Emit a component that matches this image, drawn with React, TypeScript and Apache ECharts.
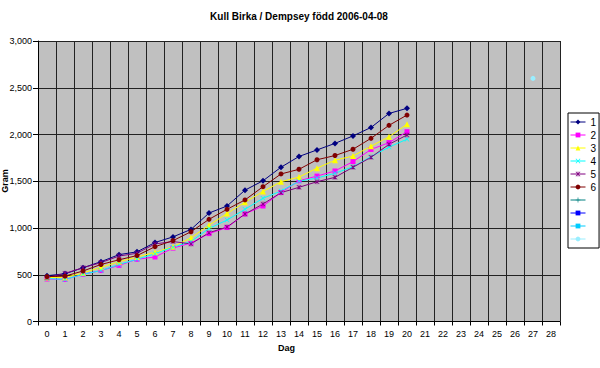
import React, { useEffect, useRef } from "react";
import * as echarts from "echarts";

const TITLE = "Kull Birka / Dempsey född 2006-04-08";
const X_TITLE = "Dag";
const Y_TITLE = "Gram";

const days = Array.from({ length: 29 }, (_, i) => String(i));

const seriesNames = ["1", "2", "3", "4", "5", "6", "7", "8", "9", "10"];

const s1 = [490, 510, 575, 640, 715, 745, 845, 905, 985, 1160, 1235, 1405, 1505, 1650, 1765, 1835, 1905, 1985, 2075, 2225, 2280];
const s2 = [455, 450, 505, 545, 600, 665, 690, 785, 840, 940, 1005, 1150, 1235, 1380, 1505, 1555, 1610, 1710, 1840, 1913, 2030];
const s3 = [470, 470, 520, 580, 640, 690, 740, 800, 895, 1030, 1155, 1275, 1390, 1495, 1545, 1640, 1725, 1770, 1875, 1975, 2110];
const s4 = [460, 450, 505, 545, 610, 665, 725, 795, 855, 995, 1085, 1200, 1318, 1395, 1500, 1535, 1585, 1655, 1763, 1865, 1950];
const s5 = [470, 515, 575, 630, 700, 730, 830, 855, 830, 950, 1010, 1150, 1257, 1378, 1435, 1495, 1542, 1650, 1756, 1895, 1995];
const s6 = [480, 485, 540, 610, 660, 705, 800, 865, 960, 1093, 1200, 1300, 1442, 1578, 1628, 1730, 1775, 1842, 1959, 2098, 2208];
const s7: (number | null)[] = [];
const s8: (number | null)[] = [];
const s9: (number | null)[] = [];
const s10: (number | null)[] = [null, null, null, null, null, null, null, null, null, null, null, null, null, null, null, null, null, null, null, null, null, null, null, null, null, null, null, 2600];

const yTicks = { min: 0, max: 3000, interval: 500 };

const FONT = "'Liberation Sans', Arial, sans-serif";

const X_PATH = "path://M0,1L1,0L5,4L9,0L10,1L6,5L10,9L9,10L5,6L1,10L0,9L4,5Z";
const STAR_PATH = "path://M0,1L1,0L5,4L9,0L10,1L6,5L10,9L9,10L5,6L1,10L0,9L4,5Z M4.3,0H5.7V10H4.3Z";
const PLUS_PATH = "path://M4.3,0H5.7V4.3H10V5.7H5.7V10H4.3V5.7H0V4.3H4.3Z";
const DASH_PATH = "path://M0,4H10V6H0Z";

export default function App() {
  const ref = useRef<HTMLDivElement>(null);
  useEffect(() => {
    if (!ref.current) return;
    const chart = echarts.init(ref.current, undefined, { renderer: "svg" });
    const datas = [s1, s2, s3, s4, s5, s6, s7, s8, s9, s10];
    const colors = ["#000080", "#FF00FF", "#FFFF00", "#00FFFF", "#800080", "#800000", "#008080", "#0000FF", "#00CCFF", "#99EEFF"];
    const symbols = ["diamond", "rect", "triangle", X_PATH, STAR_PATH, "circle", PLUS_PATH, DASH_PATH, DASH_PATH, "circle"];
    const sizes = [6, 5, 6, 5, 5, 5, 5, 5, 5, 5];
    chart.setOption({
      animation: false,
      backgroundColor: "#FFFFFF",
      textStyle: { fontFamily: FONT },
      title: {
        text: TITLE,
        left: 294,
        top: 6,
        textAlign: "center",
        textStyle: { fontSize: 10, fontWeight: "bold", color: "#000", fontFamily: FONT },
      },
      grid: {
        left: 38,
        right: 40,
        top: 41,
        bottom: 46.5,
        show: true,
        backgroundColor: "#C0C0C0",
        borderWidth: 0,
      },
      legend: {
        orient: "vertical",
        align: "left",
        left: 568,
        top: 113,
        padding: [4, 3, 4, 2],
        itemGap: 3,
        itemWidth: 15,
        itemHeight: 6,
        borderColor: "#000",
        borderWidth: 1,
        backgroundColor: "#FFFFFF",
        lineStyle: { width: 1 },
        data: seriesNames,
        formatter: (name: string) => (Number(name) > 6 ? " " : name),
        textStyle: { fontSize: 10, lineHeight: 10, color: "#000", fontFamily: FONT },
      },
      xAxis: {
        type: "category",
        data: days,
        boundaryGap: true,
        axisLine: { show: true, lineStyle: { color: "#000", width: 1 } },
        axisTick: { show: true, interval: 0, length: 4, lineStyle: { color: "#000" } },
        axisLabel: { interval: 0, fontSize: 9, color: "#000", margin: 8, fontFamily: FONT },
        splitLine: { show: true, interval: 0, lineStyle: { color: "#222", width: 1 } },
      },
      yAxis: {
        type: "value",
        min: yTicks.min,
        max: yTicks.max,
        interval: yTicks.interval,
        axisLine: { show: true, lineStyle: { color: "#000", width: 1 } },
        axisTick: { show: true, length: 5, lineStyle: { color: "#000" } },
        axisLabel: {
          fontSize: 9,
          color: "#000",
          margin: 6,
          fontFamily: FONT,
          formatter: (v: number) => v.toLocaleString("en-US"),
        },
        splitLine: { show: true, lineStyle: { color: "#222", width: 1 } },
      },
      graphic: [
        {
          type: "text",
          left: 278,
          top: 343,
          style: { text: X_TITLE, font: `bold 9px ${FONT}`, fill: "#000" },
        },
        {
          type: "text",
          x: 5,
          y: 181,
          rotation: Math.PI / 2,
          style: { text: Y_TITLE, font: `bold 9px ${FONT}`, fill: "#000", align: "center", verticalAlign: "middle" },
        },
      ],
      series: datas.map((d, i) => ({
        name: seriesNames[i],
        type: "line",
        data: d,
        symbol: symbols[i],
        symbolSize: sizes[i],
        showSymbol: true,
        connectNulls: false,
        lineStyle: { color: colors[i], width: 1 },
        itemStyle: { color: colors[i] },
        emphasis: { disabled: true },
      })),
    });
    return () => chart.dispose();
  }, []);
  return <div ref={ref} style={{ position: "fixed", left: 0, top: 0, width: 600, height: 368 }} />;
}
